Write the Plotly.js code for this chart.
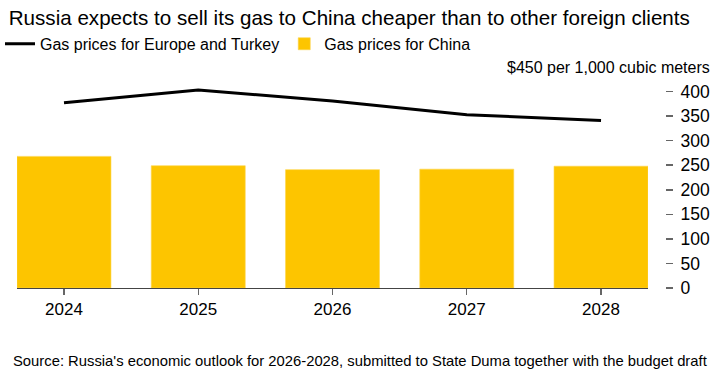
<!DOCTYPE html>
<html>
<head>
<meta charset="utf-8">
<script src="https://cdn.plot.ly/plotly-3.0.1.min.js"></script>
<style>
html,body{margin:0;padding:0;background:#fff;}
#chart{width:728px;height:388px;}
</style>
</head>
<body>
<div id="chart"></div>
<script>
const years = ["2024", "2025", "2026", "2027", "2028"];
const chinaPrices = [268, 249, 241, 242, 248];
const europeTurkeyPrices = [377, 403, 381, 353, 341];
const yTickVals = [0, 50, 100, 150, 200, 250, 300, 350, 400];
const yTickText = ["0", "50", "100", "150", "200", "250", "300", "350", "400"];
const unitLabel = "$450 per 1,000 cubic meters";
const unitLevel = 450;

const font = "Liberation Sans, Arial, Helvetica, sans-serif";

const traces = [
  {
    type: "scatter", mode: "lines", x: years, y: europeTurkeyPrices,
    name: "Gas prices for Europe and Turkey",
    line: {color: "#000000", width: 3}, hoverinfo: "skip"
  },
  {
    type: "bar", x: years, y: chinaPrices,
    name: "Gas prices for China",
    marker: {color: "#FDC500", line: {color: "#FDD54A", width: 0.6}},
    hoverinfo: "skip"
  }
];

const layout = {
  width: 728, height: 388,
  margin: {l: 17, r: 63, t: 67, b: 100, autoexpand: false},
  paper_bgcolor: "#fff", plot_bgcolor: "#fff",
  font: {family: font, color: "#000"},
  showlegend: true,
  bargap: 0.3,
  title: {
    text: "Russia expects to sell its gas to China cheaper than to other foreign clients",
    font: {size: 20.6, color: "#000", family: font},
    x: 0.012, xref: "container", xanchor: "left", y: 0.972, yanchor: "top"
  },
  legend: {
    orientation: "h", x: 0.0, xref: "container", xanchor: "left",
    y: 0.887, yref: "container", yanchor: "middle",
    font: {size: 16, color: "#000", family: font},
    traceorder: "normal",
    bgcolor: "rgba(0,0,0,0)"
  },
  xaxis: {
    type: "category",
    domain: [0, 0.9738],
    range: [-0.35, 4.35],
    showgrid: false, zeroline: false,
    showline: true, linecolor: "#444", linewidth: 1,
    ticks: "outside", ticklen: 6, tickcolor: "#666", tickwidth: 1.2,
    tickfont: {size: 17, color: "#000", family: font},
    fixedrange: true
  },
  yaxis: {
    range: [0, 450],
    side: "right", anchor: "free", position: 1,
    showgrid: false, zeroline: false, showline: false,
    ticks: "outside", ticklen: 7, tickcolor: "#666", tickwidth: 1.5,
    tickvals: yTickVals, ticktext: yTickText,
    tickfont: {size: 17.5, color: "#000", family: font},
    ticklabelstandoff: 4,
    fixedrange: true
  },
  annotations: [
    {
      text: unitLabel, xref: "paper", x: 1.072, xanchor: "right",
      yref: "y", y: unitLevel, yanchor: "middle", showarrow: false,
      font: {size: 16, color: "#000", family: font}
    },
    {
      text: "Source: Russia's economic outlook for 2026-2028, submitted to State Duma together with the budget draft",
      xref: "paper", x: -0.009, xanchor: "left", yref: "paper", y: -0.33, yanchor: "middle",
      showarrow: false, font: {size: 14.8, color: "#000", family: font}
    }
  ]
};

Plotly.newPlot("chart", traces, layout, {displayModeBar: false, staticPlot: true});
</script>
</body>
</html>
